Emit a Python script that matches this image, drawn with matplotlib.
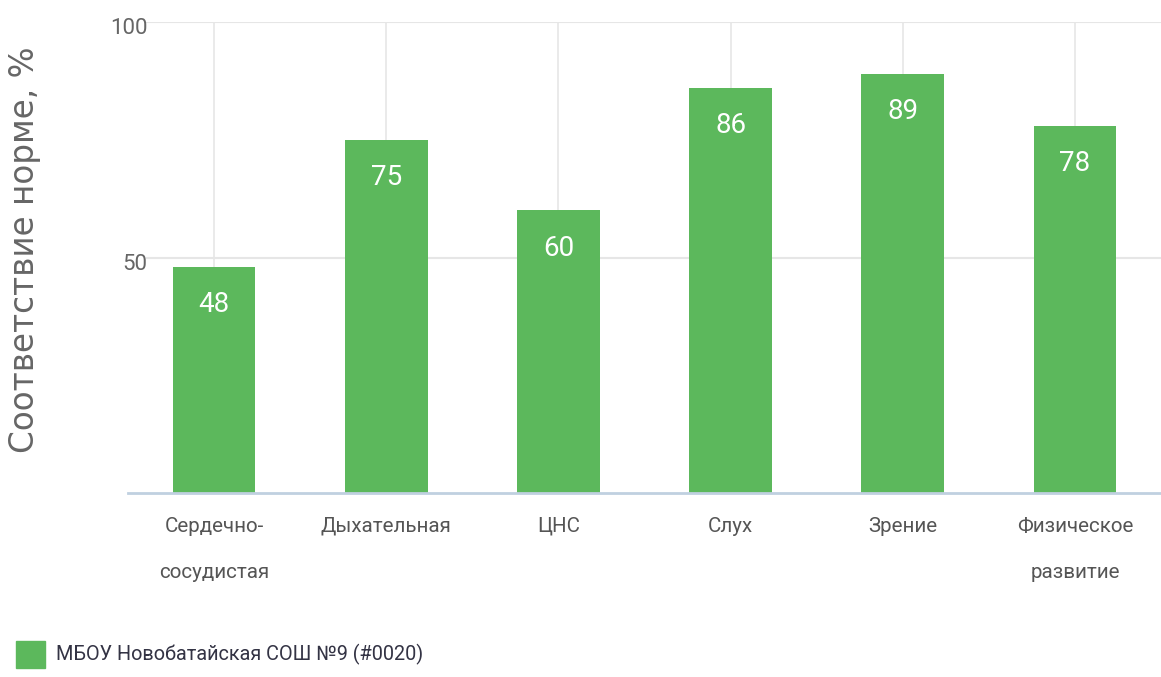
import matplotlib
matplotlib.use("Agg")
import matplotlib.pyplot as plt
from matplotlib.patches import Patch
import matplotlib.transforms as mtransforms

categories = ["Сердечно-\nсосудистая", "Дыхательная", "ЦНС", "Слух", "Зрение", "Физическое\nразвитие"]
values = [48, 75, 60, 86, 89, 78]
yticks = [50, 100]
series_name = "МБОУ Новобатайская СОШ №9 (#0020)"
ylabel = "Соответствие норме, %"

plt.rcParams['font.family'] = ["Roboto", "DejaVu Sans"]

bar_color = "#5cb85c"
W, H = 1161, 677
fig = plt.figure(figsize=(W / 100, H / 100), dpi=100)
ax = fig.add_axes([128 / W, (H - 493) / H, (W - 128) / W, (493 - 22) / H])

x = list(range(len(categories)))
ax.bar(x, values, width=0.48, color=bar_color, zorder=3)
ax.set_xlim(-0.5, len(categories) - 0.5)
ax.set_ylim(0, 100)

# vertical grid at category centers
for xi in x:
    ax.axvline(xi, color="#e6e6e6", lw=1.2, zorder=1)
# horizontal grid
for yt in yticks:
    ax.axhline(yt, xmin=19 / (W - 128), color="#e6e6e6", lw=1.5, zorder=1)

for s in ["top", "right", "left"]:
    ax.spines[s].set_visible(False)
ax.spines["bottom"].set_color("#c0d0e0")
ax.spines["bottom"].set_linewidth(2)
ax.spines["bottom"].set_zorder(4)

ax.set_yticks(yticks)
ax.set_yticklabels([str(v) for v in yticks])
ax.tick_params(axis="y", length=0, pad=-14, labelsize=16, labelcolor="#666666")
for lbl in ax.get_yticklabels():
    lbl.set_transform(lbl.get_transform() + mtransforms.ScaledTranslation(0, -4 / 100, fig.dpi_scale_trans))

ax.set_xticks(x)
ax.set_xticklabels(categories, linespacing=2.85, va="top")
ax.tick_params(axis="x", length=0, pad=17, labelsize=14.8, labelcolor="#555555")

for xi, v in zip(x, values):
    ax.annotate(str(v), (xi, v), xytext=(0, -38), textcoords="offset pixels",
                ha="center", va="center", color="white", fontsize=20, zorder=5)

fig.text(25 / W, 1 - 250 / H, ylabel, rotation=90, ha="center", va="center",
         color="#666666", fontsize=23.5, family=["DejaVu Sans"])

leg = fig.legend(handles=[Patch(facecolor=bar_color, edgecolor=bar_color, label=series_name)],
                 loc="lower left", bbox_to_anchor=(16 / W, 9 / H), frameon=False,
                 borderpad=0, borderaxespad=0,
                 fontsize=14.3, handlelength=1.45, handleheight=1.75, handletextpad=0.55)
for t in leg.get_texts():
    t.set_color("#333344")

fig.savefig("out.png", dpi=100)
